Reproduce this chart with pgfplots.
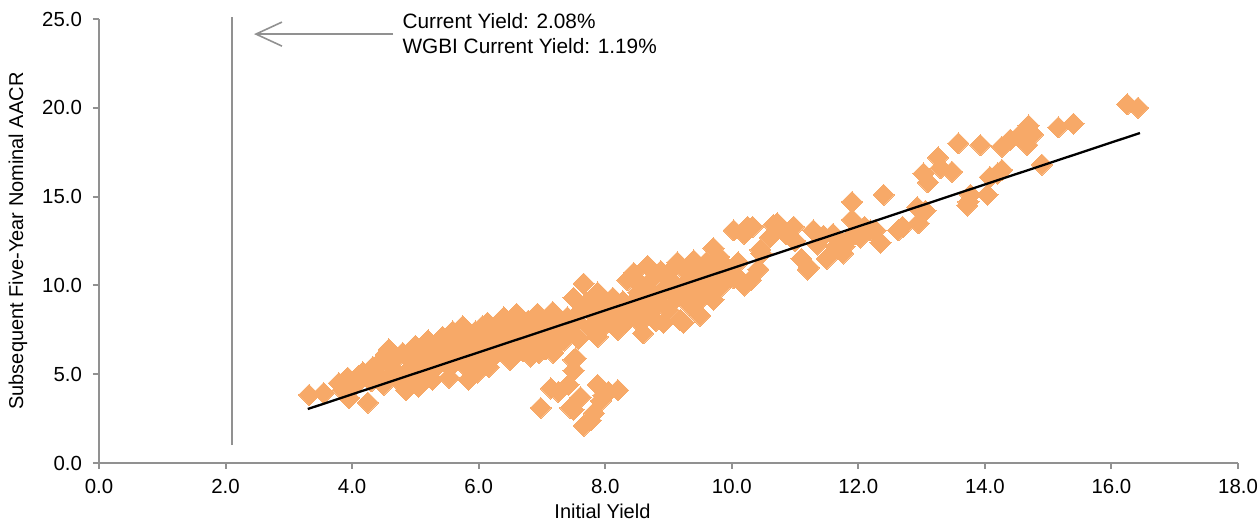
\documentclass[border=0pt]{standalone}
\usepackage{pgfplots}
\pgfplotsset{compat=1.18}
\usepackage{fontspec}
\setmainfont{Liberation Sans}
\usetikzlibrary{arrows.meta}
\definecolor{dotor}{RGB}{247,169,104}
\definecolor{axgray}{RGB}{145,145,145}
\pgfplotstableread{
x y
3.32 3.83
3.55 3.94
3.79 4.5
3.85 4.1
3.93 4.8
3.95 3.66
4.05 4.4
4.1 4.9
4.17 5.1
4.25 3.4
4.3 4.6
4.33 5.4
4.4 5.0
4.45 5.7
4.5 4.4
4.53 6.1
4.58 6.4
4.62 5.4
4.7 5.9
4.75 4.6
4.8 6.2
4.85 4.1
4.88 5.2
4.92 5.8
4.95 6.3
5.0 6.6
5.05 4.3
5.08 5.6
5.12 6.0
5.15 5.0
5.2 6.9
5.25 6.4
5.27 4.7
5.32 5.7
5.38 6.7
5.43 7.1
5.48 6.2
5.53 4.8
5.55 5.4
5.59 7.4
5.62 6.8
5.68 5.9
5.72 6.5
5.75 7.7
5.8 7.1
5.84 4.7
5.88 6.3
5.92 5.5
5.95 7.4
5.98 5.1
6.02 6.8
6.06 7.7
6.1 6.1
6.14 7.9
6.16 5.4
6.2 7.3
6.24 6.0
6.28 6.6
6.32 7.9
6.36 7.0
6.4 8.2
6.44 6.4
6.5 5.8
6.52 7.5
6.56 6.9
6.6 8.4
6.64 7.8
6.7 6.3
6.74 7.2
6.78 8.0
6.82 6.0
6.86 7.5
6.9 6.7
6.93 8.4
6.98 7.9
7.02 7.0
7.06 6.4
7.1 7.7
7.14 8.1
7.18 6.2
7.17 8.5
7.22 7.3
7.26 6.7
7.3 7.9
7.35 6.9
7.4 8.2
7.45 7.4
7.5 9.3
7.55 8.0
7.58 7.0
7.62 8.6
7.66 10.1
7.7 9.0
7.75 7.6
7.8 8.4
7.84 9.4
7.88 9.6
7.88 7.1
7.92 8.2
7.96 9.0
8.0 7.8
8.04 8.7
8.08 8.05
8.12 9.3
8.16 7.7
8.2 7.5
8.24 8.5
8.28 9.1
8.32 7.9
8.35 10.3
8.37 8.3
8.42 9.0
8.45 10.7
8.5 8.6
8.52 9.6
8.55 7.9
8.58 10.0
8.6 7.3
8.63 9.2
8.67 11.1
8.7 8.4
8.72 9.7
8.76 10.4
8.8 8.0
8.84 9.1
8.88 10.8
8.92 7.9
8.95 9.8
9.0 8.6
9.04 10.3
9.08 11.0
9.12 9.3
9.14 11.3
9.19 8.05
9.22 9.9
9.24 7.9
9.27 10.9
9.3 10.7
9.33 8.9
9.36 9.6
9.4 11.4
9.44 11.1
9.47 10.2
9.5 9.2
9.5 8.3
9.55 10.6
9.6 11.3
9.63 9.8
9.68 10.9
9.71 12.1
9.71 9.2
9.75 10.4
9.8 11.6
9.82 9.9
9.87 11.2
9.92 10.7
9.98 10.5
10.03 10.4
10.03 13.1
10.1 11.3
10.14 10.3
10.17 13.0
10.2 12.9
10.2 10.0
10.25 13.3
10.3 10.3
10.33 13.3
10.42 10.9
10.45 12.0
10.47 11.8
10.6 12.7
10.66 13.4
10.72 13.5
10.85 12.9
10.98 13.3
11.0 12.5
11.1 11.5
11.2 10.9
11.22 11.0
11.29 13.1
11.35 12.3
11.45 12.8
11.5 11.5
11.6 12.9
11.65 12.2
11.76 11.8
11.78 12.2
11.85 12.6
11.9 14.7
11.9 13.7
11.95 12.9
12.03 12.7
12.1 13.3
12.19 13.1
12.27 13.1
12.35 12.4
12.4 15.1
12.63 13.1
12.7 13.3
12.93 14.4
12.95 13.5
13.03 16.3
13.06 14.2
13.1 15.8
13.26 17.2
13.3 16.6
13.48 16.4
13.58 18.0
13.72 14.5
13.74 14.7
13.77 15.1
13.93 17.9
14.04 15.1
14.08 16.1
14.2 16.3
14.27 17.8
14.27 16.5
14.4 18.2
14.53 18.4
14.67 17.9
14.69 19.0
14.76 18.5
14.9 16.8
15.16 18.9
15.4 19.1
16.25 20.2
16.42 20.0
6.98 3.1
7.14 4.2
7.26 4.0
7.42 4.4
7.5 5.2
7.53 5.9
7.5 5.8
7.45 3.1
7.5 3.0
7.61 3.7
7.66 2.1
7.77 2.4
7.82 2.8
7.88 4.4
7.93 3.5
7.97 3.8
8.05 4.0
8.2 4.1
6.3 6.3
6.62 6.6
6.95 6.2
7.2 7.0
7.0 6.9
6.45 7.2
5.3 5.3
5.6 6.1
4.9 4.7
5.75 5.6
6.05 5.8
6.85 6.9
7.32 7.5
4.65 5.0
}\scatterdata
\begin{document}
\begin{tikzpicture}
\begin{axis}[
  set layers,
  scale only axis,
  width=569.5pt, height=222pt,
  xmin=0, xmax=18, ymin=0, ymax=25,
  clip=false,
  axis lines*=left,
  axis line style={axgray, line width=1pt},
  xtick={0,2,...,18}, ytick={0,5,...,25},
  tick align=outside,
  major tick length=3pt,
  tick style={axgray, line width=1pt},
  /pgf/number format/fixed,
  /pgf/number format/fixed zerofill,
  /pgf/number format/precision=1,
  /pgf/number format/assume math mode=true,
  ticklabel style={font=\fontsize{10.2}{12}\selectfont},
  yticklabel style={xshift=-2pt},
  xticklabel style={yshift=-1.5pt},
  label style={font=\fontsize{10.2}{12}\selectfont},
  xlabel={Initial Yield},
  ylabel={Subsequent Five-Year Nominal AACR},
  every axis x label/.style={at={(axis description cs:0.442,-0.110)}, anchor=center},
  every axis y label/.style={at={(axis description cs:-0.0711,0.5)}, anchor=center, rotate=90},
]
\addplot[only marks, color=dotor, mark=square*, mark size=3.75pt,
  mark options={rotate=45, fill=dotor, draw=dotor, line width=0pt}] table[x=x,y=y] {\scatterdata};
\addplot[black, line width=1.15pt, no marks, on layer=axis foreground] coordinates {(3.30,3.04) (16.45,18.58)};
\draw[axgray, line width=1pt] (axis cs:2.10,1.0) -- (axis cs:2.10,25.1);
\draw[axgray, line width=0.8pt, -{Straight Barb[length=13pt, width=12pt]}] (axis cs:4.65,24.15) -- (axis cs:2.45,24.15);
\node[anchor=west, align=left, inner sep=0pt, font=\fontsize{10.4}{12.5}\selectfont] at (axis cs:4.79,24.2) {Current Yield: 2.08\%\\WGBI Current Yield: 1.19\%};
\coordinate (ll) at (axis cs:0,0);
\coordinate (ur) at (axis cs:18,25);
\end{axis}
\pgfresetboundingbox
\path[use as bounding box] ([shift={(-49.5pt,-30pt)}]ll) rectangle ([shift={(10pt,9.5pt)}]ur);
\end{tikzpicture}
\end{document}
